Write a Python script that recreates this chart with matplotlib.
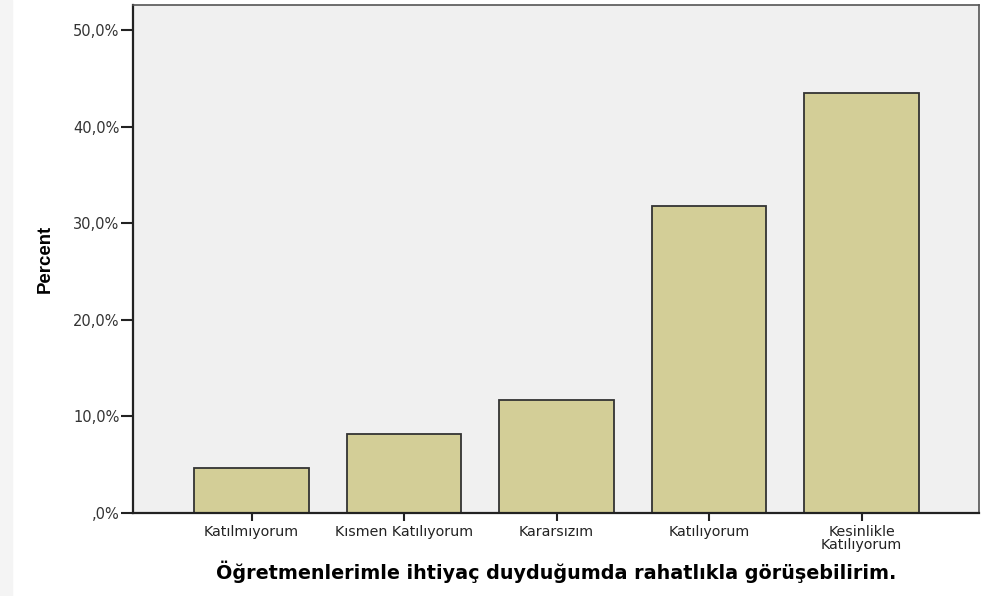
import matplotlib
matplotlib.use("Agg")
import matplotlib.pyplot as plt
from matplotlib.patches import Rectangle
from matplotlib.ticker import FuncFormatter

# data
categories = ["Katılmıyorum", "Kısmen Katılıyorum", "Kararsızım",
              "Katılıyorum", "Kesinlikle\nKatılıyorum"]
percent = [4.7, 8.2, 11.7, 31.8, 43.5]
yticks = [0, 10, 20, 30, 40, 50]

BAR = "#d3ce97"
BG = "#f0f0f0"
EDGE = "#333333"

fig = plt.figure(figsize=(9.85, 5.96), dpi=100)
fig.patches.append(Rectangle((0, 0), 12 / 985, 1, transform=fig.transFigure,
                             color="#f4f4f4", zorder=0))

ax = fig.add_axes([133 / 985, 83 / 596, 846 / 985, 508 / 596])
ax.set_facecolor(BG)
ax.bar(range(len(categories)), percent, width=0.75, color=BAR,
       edgecolor=EDGE, linewidth=1.3, zorder=2)

ax.set_xlim(-0.777, len(categories) - 1 + 0.77)
ax.set_ylim(0, 52.6)
ax.set_yticks(yticks)
ax.yaxis.set_major_formatter(FuncFormatter(
    lambda v, p: ",0%" if v == 0 else f"{v:.1f}%".replace(".", ",")))
ax.set_xticks(range(len(categories)))
ax.set_xticklabels(categories, fontsize=10.3, family="DejaVu Sans",
                   linespacing=0.85, color="#333333")
for lab in ax.get_yticklabels():
    lab.set_family("DejaVu Sans")
    lab.set_color("#333333")
# tick lengths in points (~12 px and ~8 px)
ax.tick_params(axis="y", length=8.6, width=1.5, labelsize=10.5, pad=1,
               colors="#222222")
ax.tick_params(axis="x", length=5.8, width=1.5, pad=3, colors="#222222")
for lab in ax.get_yticklabels():
    lab.set_color("#333333")

for side in ["left", "bottom"]:
    ax.spines[side].set_linewidth(1.6)
    ax.spines[side].set_color("#222222")
for side in ["top", "right"]:
    ax.spines[side].set_linewidth(1.2)
    ax.spines[side].set_color("#555555")

fig.text(45 / 985, 1 - 259 / 596, "Percent", rotation=90, ha="center",
         va="center", fontsize=13.4, fontweight="bold", family="Liberation Sans")
fig.text(556 / 985, 1 - 572 / 596,
         "Öğretmenlerimle ihtiyaç duyduğumda rahatlıkla görüşebilirim.",
         ha="center", va="center", fontsize=13.8, fontweight="bold",
         family="DejaVu Sans")

fig.savefig("out.png", dpi=100)
